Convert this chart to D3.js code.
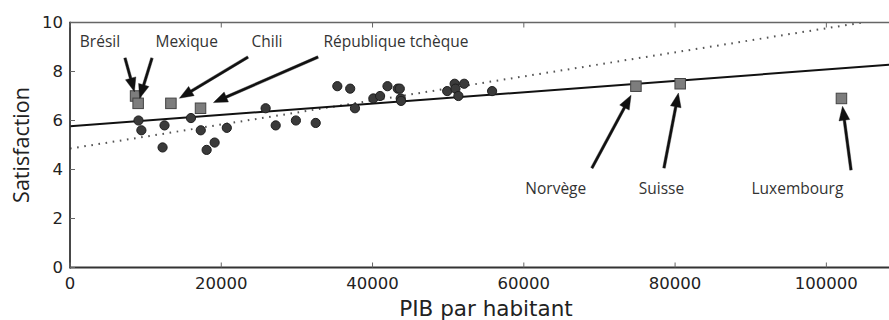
<!DOCTYPE html>
<html>
<head>
<meta charset="utf-8">
<script src="https://cdn.jsdelivr.net/npm/d3@7"></script>
<style>
  html, body { margin: 0; padding: 0; background: #fff; }
  svg { display: block; }
</style>
</head>
<body>
<svg id="chart" width="889" height="320"></svg>
<script>
// OECD sample: GDP per capita and life satisfaction (circles)
var sampleGdp = [9054.914, 9437.372, 12239.894, 12495.334, 15991.736, 17288.083,
	18064.288, 19121.592, 20732.482, 25864.721, 27195.197, 29866.581, 32485.545,
	35343.336, 37044.891, 37675.006, 40106.632, 40996.511, 41973.988, 43331.961,
	43603.115, 43724.031, 43770.688, 49866.266, 50854.583, 50961.865, 51350.744,
	52114.165, 55805.204];
var sampleSat = [6.0, 5.6, 4.9, 5.8, 6.1, 5.6, 4.8, 5.1, 5.7, 6.5, 5.8, 6.0, 5.9,
	7.4, 7.3, 6.5, 6.9, 7.0, 7.4, 7.3, 7.3, 6.9, 6.8, 7.2, 7.5, 7.3, 7.0, 7.5, 7.2];

// countries left out of the sample (squares, annotated)
var missingNames = ["Brésil", "Mexique", "Chili", "République tchèque",
	"Norvège", "Suisse", "Luxembourg"];
var missingGdp = [8669.998, 9009.280, 13340.905, 17256.918, 74822.106, 80675.308, 101994.093];
var missingSat = [7.0, 6.7, 6.7, 6.5, 7.4, 7.5, 6.9];

// where each label sits and where its arrow starts (data units)
var labelGdp = [1300, 11300, 24000, 33500, 60200, 75200, 90100];
var labelSat = [9.0, 9.0, 9.0, 9.0, 3.0, 3.0, 3.0];
var arrowFromGdp = [7270, 10840, 23530, 32790, 69000, 78530, 103260];
var arrowFromSat = [8.55, 8.55, 8.59, 8.59, 4.06, 4.06, 3.98];

// fitted models, as end points
var fullFitLine = [[0, 5.763], [110000, 8.312]];     // all countries (solid)
var sampleFitLine = [[0, 4.853], [110000, 10.256]];  // sample only (dotted)

var xTicks = [0, 20000, 40000, 60000, 80000, 100000];
var yTicks = [0, 2, 4, 6, 8, 10];

var svg = d3.select("#chart");
var margin = {left: 70, top: 22.5, right: -13, bottom: 52.5};
var W = 889, H = 320;

var x = d3.scaleLinear().domain([0, 110000]).range([margin.left, W - margin.right]);
var y = d3.scaleLinear().domain([0, 10]).range([H - margin.bottom, margin.top]);

svg.append("defs").append("clipPath").attr("id", "plotClip")
	.append("rect")
	.attr("x", x(0)).attr("y", y(10))
	.attr("width", x(110000) - x(0)).attr("height", y(0) - y(10));

var plot = svg.append("g").attr("clip-path", "url(#plotClip)");

// regression lines
var line = d3.line().x(d => x(d[0])).y(d => y(d[1]));
plot.append("path").datum(sampleFitLine)
	.attr("d", line)
	.attr("fill", "none")
	.attr("stroke", "#555")
	.attr("stroke-width", 2)
	.attr("stroke-dasharray", "1.6,5.6");
plot.append("path").datum(fullFitLine)
	.attr("d", line)
	.attr("fill", "none")
	.attr("stroke", "#111")
	.attr("stroke-width", 2);

// sample points
plot.selectAll("circle.pt")
	.data(d3.range(sampleGdp.length))
	.enter()
	.append("circle")
	.attr("class", "pt")
	.attr("cx", i => x(sampleGdp[i]))
	.attr("cy", i => y(sampleSat[i]))
	.attr("r", 4.6)
	.attr("fill", "#3a3a3a")
	.attr("stroke", "#1e1e1e")
	.attr("stroke-width", 1);

// missing countries
var sq = 10.5;
plot.selectAll("rect.miss")
	.data(d3.range(missingGdp.length))
	.enter()
	.append("rect")
	.attr("class", "miss")
	.attr("x", i => x(missingGdp[i]) - sq / 2)
	.attr("y", i => y(missingSat[i]) - sq / 2)
	.attr("width", sq).attr("height", sq)
	.attr("fill", "#7d7d7d")
	.attr("stroke", "#444")
	.attr("stroke-width", 1);

// arrows pointing at the missing countries
var arrowPath = function(x0, y0, x1, y1) {
	var dx = x1 - x0, dy = y1 - y0;
	var len = Math.sqrt(dx * dx + dy * dy);
	var ux = dx / len, uy = dy / len;
	var shrink = 0.11 * len;
	var tx = x1 - ux * shrink, ty = y1 - uy * shrink;   // tip
	var headLen = 14, headW = 5.4, shaftW = 1.3;
	var bx = tx - ux * headLen, by = ty - uy * headLen;  // base of head
	var px = -uy, py = ux;
	var pts = [
		[x0 + px * shaftW, y0 + py * shaftW],
		[bx + px * shaftW, by + py * shaftW],
		[bx + px * headW, by + py * headW],
		[tx, ty],
		[bx - px * headW, by - py * headW],
		[bx - px * shaftW, by - py * shaftW],
		[x0 - px * shaftW, y0 - py * shaftW]
	];
	return "M" + pts.map(p => p[0].toFixed(2) + "," + p[1].toFixed(2)).join("L") + "Z";
};

svg.append("g").selectAll("path")
	.data(d3.range(missingNames.length))
	.enter()
	.append("path")
	.attr("d", i => arrowPath(x(arrowFromGdp[i]), y(arrowFromSat[i]),
		x(missingGdp[i]), y(missingSat[i])))
	.attr("fill", "#111")
	.attr("stroke", "#111")
	.attr("stroke-width", 0.4);

svg.append("g").selectAll("text")
	.data(d3.range(missingNames.length))
	.enter()
	.append("text")
	.attr("x", i => x(labelGdp[i]))
	.attr("y", i => y(labelSat[i]))
	.attr("font-family", "'Open Sans', sans-serif")
	.attr("font-size", 15.5)
	.attr("fill", "#333")
	.text(i => missingNames[i]);

// frame and ticks (matplotlib style, ticks inside)
var axisColor = "#333";
var axes = svg.append("g");
axes.append("line")
	.attr("x1", x(0)).attr("x2", W).attr("y1", y(10)).attr("y2", y(10))
	.attr("stroke", "#666").attr("stroke-width", 1.6);
axes.append("line")
	.attr("x1", x(0)).attr("x2", W).attr("y1", y(0)).attr("y2", y(0))
	.attr("stroke", axisColor).attr("stroke-width", 1.8);
axes.append("line")
	.attr("x1", x(0)).attr("x2", x(0)).attr("y1", y(0) + 0.9).attr("y2", y(10) - 0.8)
	.attr("stroke", axisColor).attr("stroke-width", 1.8);

xTicks.forEach(function(t) {
	axes.append("line")
		.attr("x1", x(t)).attr("x2", x(t)).attr("y1", y(0)).attr("y2", y(0) - 5)
		.attr("stroke", "#666").attr("stroke-width", 1);
	axes.append("line")
		.attr("x1", x(t)).attr("x2", x(t)).attr("y1", y(10)).attr("y2", y(10) + 5)
		.attr("stroke", "#666").attr("stroke-width", 1);
	axes.append("text")
		.attr("x", x(t)).attr("y", y(0) + 21)
		.attr("text-anchor", "middle")
		.attr("font-family", "'DejaVu Sans', sans-serif")
		.attr("font-size", 16.5)
		.attr("fill", "#222")
		.text(t);
});

yTicks.forEach(function(t) {
	axes.append("line")
		.attr("x1", x(0)).attr("x2", x(0) + 5).attr("y1", y(t)).attr("y2", y(t))
		.attr("stroke", "#666").attr("stroke-width", 1);
	axes.append("text")
		.attr("x", x(0) - 7).attr("y", y(t))
		.attr("dy", "0.36em")
		.attr("text-anchor", "end")
		.attr("font-family", "'DejaVu Sans', sans-serif")
		.attr("font-size", 16.5)
		.attr("fill", "#222")
		.text(t);
});

// axis titles
svg.append("text")
	.attr("x", (x(0) + x(110000)) / 2).attr("y", 316)
	.attr("text-anchor", "middle")
	.attr("font-family", "'DejaVu Sans', sans-serif")
	.attr("font-size", 21.5)
	.attr("fill", "#222")
	.text("PIB par habitant");

svg.append("text")
	.attr("transform", "translate(29," + ((y(0) + y(10)) / 2) + ") rotate(-90)")
	.attr("text-anchor", "middle")
	.attr("font-family", "'Open Sans', sans-serif")
	.attr("font-size", 21.5)
	.attr("fill", "#222")
	.text("Satisfaction");
</script>
</body>
</html>
